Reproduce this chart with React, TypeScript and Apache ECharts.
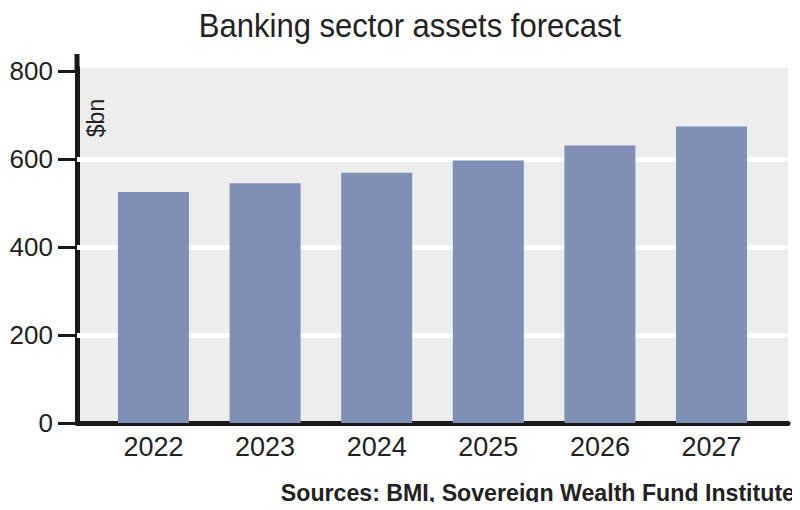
import React, { useEffect, useRef } from "react";
import * as echarts from "echarts";

const years = ["2022", "2023", "2024", "2025", "2026", "2027"];
const assets = [525, 545, 569, 597, 631, 674];
const yTicks = [0, 200, 400, 600, 800];
const gridValues = [200, 400, 600];
const titleText = "Banking sector assets forecast";
const unitText = "$bn";
const sourceText = "Sources: BMI, Sovereign Wealth Fund Institute";

const SANS = "'Liberation Sans', Arial, sans-serif";

export default function App() {
  const ref = useRef<HTMLDivElement>(null);
  useEffect(() => {
    if (!ref.current) return;
    const chart = echarts.init(ref.current, null, { renderer: "svg" });
    chart.setOption({
      animation: false,
      backgroundColor: "#ffffff",
      grid: {
        left: 77,
        right: 12,
        top: 68,
        bottom: 87,
        show: true,
        backgroundColor: "#ededed",
        borderWidth: 0,
        containLabel: false,
      },
      xAxis: {
        type: "value",
        min: -0.685,
        max: 5.685,
        axisLine: { show: true, onZero: false, lineStyle: { color: "#1a1a1a", width: 5 } },
        axisTick: { show: false },
        splitLine: { show: false },
        axisLabel: {
          customValues: years.map((_, i) => i),
          formatter: (v: number) => years[Math.round(v)] ?? "",
          fontFamily: SANS,
          fontSize: 27,
          color: "#222",
          margin: 10,
        },
      },
      yAxis: {
        type: "value",
        min: 0,
        max: 807,
        axisLine: { show: true, onZero: false, lineStyle: { color: "#1a1a1a", width: 5 } },
        axisTick: {
          show: true,
          customValues: yTicks,
          length: 19,
          inside: false,
          lineStyle: { color: "#1a1a1a", width: 3 },
        },
        splitLine: { show: false },
        axisLabel: {
          customValues: yTicks,
          fontFamily: SANS,
          fontSize: 26,
          color: "#222",
          margin: 24,
        },
      },
      series: [
        {
          type: "line",
          data: [],
          z: 1,
          silent: true,
          markLine: {
            z: 1,
            silent: true,
            symbol: ["none", "none"],
            label: { show: false },
            lineStyle: { color: "#ffffff", width: 5, type: "solid" },
            data: gridValues.map((v) => ({ yAxis: v })),
          },
        },
        {
          type: "bar",
          z: 2,
          barWidth: 71,
          itemStyle: { color: "#7f8fb5" },
          data: years.map((_, i) => [i, assets[i]]),
        },
      ],
      graphic: [
        {
          type: "text",
          x: 410,
          y: 26,
          scaleX: 0.94,
          style: {
            text: titleText,
            fontFamily: SANS,
            fontSize: 33,
            fill: "#222",
            align: "center",
            verticalAlign: "middle",
          },
        },
        {
          type: "line",
          shape: { x1: 77, y1: 54, x2: 77, y2: 70 },
          style: { stroke: "#1a1a1a", lineWidth: 5 },
        },
        {
          type: "text",
          x: 96,
          y: 118,
          rotation: Math.PI / 2,
          style: {
            text: unitText,
            fontFamily: SANS,
            fontSize: 23,
            fill: "#222",
            align: "center",
            verticalAlign: "middle",
          },
        },
        {
          type: "text",
          x: 795,
          y: 493,
          scaleX: 0.965,
          style: {
            text: sourceText,
            fontFamily: SANS,
            fontWeight: "bold",
            fontSize: 24,
            fill: "#222",
            align: "right",
            verticalAlign: "middle",
          },
        },
      ],
    });
    return () => chart.dispose();
  }, []);
  return <div ref={ref} style={{ width: 800, height: 510, margin: -8 }} />;
}
